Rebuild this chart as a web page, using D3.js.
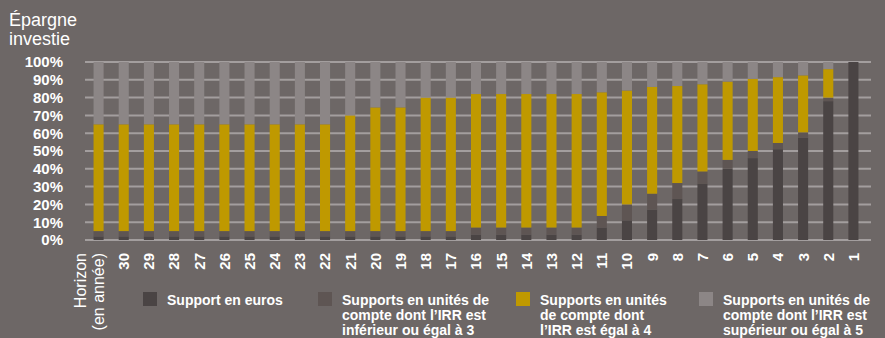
<!DOCTYPE html>
<html>
<head>
<meta charset="utf-8">
<script src="https://cdn.jsdelivr.net/npm/d3@7"></script>
<style>
  html, body { margin: 0; padding: 0; background: #6d6766; }
  svg { display: block; }
  text { font-family: "Liberation Sans", Arial, sans-serif; fill: #ffffff; }
</style>
</head>
<body>
<svg id="chart" width="885" height="338"></svg>
<script>
// Horizon categories (first one is the axis caption shown as a category)
const categories = ["Horizon|(en année)", "30", "29", "28", "27", "26", "25", "24", "23", "22", "21",
  "20", "19", "18", "17", "16", "15", "14", "13", "12", "11",
  "10", "9", "8", "7", "6", "5", "4", "3", "2", "1"];

// Share of savings per support (%)
const supportEuros = [2, 2, 2, 2, 2, 2, 2, 2, 2, 2, 2,
  2, 2, 2, 2, 3, 3, 3, 3, 3, 7,
  11, 17, 23, 31.5, 40, 46, 51, 57.5, 78, 100];
const ucIrr3 = [3, 3, 3, 3, 3, 3, 3, 3, 3, 3, 3,
  3, 3, 3, 3, 4, 4, 4, 4, 4, 6.5,
  9, 9, 9, 7, 5, 4, 3.5, 3, 2, 0];
const ucIrr4 = [60, 60, 60, 60, 60, 60, 60, 60, 60, 60, 65,
  69.5, 69.5, 75, 75, 75, 75, 75, 75, 75, 69.5,
  64, 60, 54.5, 49, 44, 40.5, 37, 32, 16, 0];
const ucIrr5 = [35, 35, 35, 35, 35, 35, 35, 35, 35, 35, 30,
  25.5, 25.5, 20, 20, 18, 18, 18, 18, 18, 17,
  16, 14, 13.5, 12.5, 11, 9.5, 8.5, 7.5, 4, 0];

const yTicks = [0, 10, 20, 30, 40, 50, 60, 70, 80, 90, 100];

const seriesNames = [
  ["Support en euros"],
  ["Supports en unités de", "compte dont l’IRR est", "inférieur ou égal à 3"],
  ["Supports en unités", "de compte dont", "l’IRR est égal à 4"],
  ["Supports en unités de", "compte dont l’IRR est", "supérieur ou égal à 5"]
];
const seriesColors = ["#4a4444", "#5e5553", "#bf9900", "#8c8686"];
const keys = ["euros", "irr3", "irr4", "irr5"];

const rows = categories.map((c, i) => ({
  cat: c, euros: supportEuros[i], irr3: ucIrr3[i], irr4: ucIrr4[i], irr5: ucIrr5[i]
}));

const svg = d3.select("#chart");

const plot = { left: 85, right: 871, top: 62, bottom: 240 };

const x = d3.scaleBand()
  .domain(categories)
  .range([86, 866])
  .paddingInner(0.6)
  .paddingOuter(0.3);

const y = d3.scaleLinear().domain([0, 100]).range([plot.bottom, plot.top]);

// Title
const title = svg.append("text").attr("x", 9).attr("y", 26).style("font-size", "18px");
title.append("tspan").attr("x", 9).attr("dy", 0).text("Épargne");
title.append("tspan").attr("x", 9).attr("dy", 19).text("investie");

// Gridlines
svg.append("g")
  .selectAll("line")
  .data(yTicks)
  .join("line")
  .attr("x1", plot.left)
  .attr("x2", plot.right)
  .attr("y1", d => y(d))
  .attr("y2", d => y(d))
  .attr("stroke", "#a39e9e")
  .attr("stroke-width", 2);

// Y axis labels
const yAxis = d3.axisLeft(y).tickValues(yTicks).tickFormat(d => d + "%").tickSize(0).tickPadding(0);
const yg = svg.append("g").attr("transform", "translate(63,0)").call(yAxis);
yg.select(".domain").remove();
yg.selectAll("text")
  .style("font-size", "15px")
  .style("font-weight", "bold")
  .attr("fill", "#ffffff")
  .style("font-family", "'Liberation Sans', Arial, sans-serif");

// Stacked bars
const stack = d3.stack().keys(keys);
const layers = stack(rows);

svg.append("g")
  .selectAll("g")
  .data(layers)
  .join("g")
  .attr("fill", (d, i) => seriesColors[i])
  .selectAll("rect")
  .data(d => d)
  .join("rect")
  .attr("x", d => x(d.data.cat))
  .attr("width", x.bandwidth())
  .attr("y", d => y(d[1]))
  .attr("height", d => Math.max(0, y(d[0]) - y(d[1])));

// X axis labels (rotated)
const xAxis = d3.axisBottom(x).tickSize(0).tickPadding(0).tickFormat(() => "");
const xg = svg.append("g").attr("transform", `translate(0,${plot.bottom})`).call(xAxis);
xg.select(".domain").remove();
xg.selectAll(".tick").each(function (d) {
  const t = d3.select(this);
  t.select("text").remove();
  const parts = d.split("|");
  if (parts.length === 1) {
    t.append("text")
      .attr("transform", "translate(0,13) rotate(-90)")
      .attr("text-anchor", "end")
      .attr("dy", "0.36em")
      .style("font-size", "15px")
      .style("font-weight", "bold")
      .text(parts[0]);
  } else {
    parts.forEach((p, k) => {
      t.append("text")
        .attr("transform", `translate(${(k - 1) * 18},13) rotate(-90)`)
        .attr("text-anchor", "end")
        .attr("dy", "0.36em")
        .style("font-size", "16px")
        .text(p);
    });
  }
});

// Legend
const legendX = [143, 318, 516, 699];
const legend = svg.append("g")
  .selectAll("g")
  .data(seriesNames)
  .join("g")
  .attr("transform", (d, i) => `translate(${legendX[i]},292)`);

legend.append("rect")
  .attr("width", 14).attr("height", 14)
  .attr("fill", (d, i) => seriesColors[i]);

legend.append("text")
  .attr("x", 24)
  .attr("y", 13)
  .style("font-size", "14px")
  .style("font-weight", "bold")
  .selectAll("tspan")
  .data(d => d)
  .join("tspan")
  .attr("x", 24)
  .attr("dy", (d, i) => i === 0 ? 0 : 15)
  .text(d => d);
</script>
</body>
</html>
